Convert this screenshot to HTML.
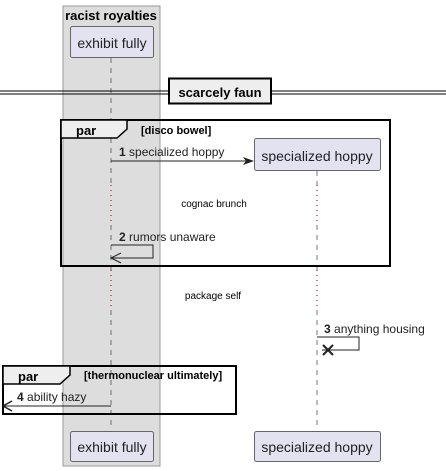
<!DOCTYPE html>
<html><head><style>body{margin:0;background:#fff}svg{display:block}</style></head><body>
<svg width="446" height="471" xmlns="http://www.w3.org/2000/svg" font-family="Liberation Sans, sans-serif">
<rect x="63" y="6" width="97" height="460" fill="#ddd" stroke="#999" stroke-width="1"/>
<text x="111" y="20" text-anchor="middle" font-size="13" font-weight="bold">racist royalties</text>
<g stroke="#555" stroke-dasharray="5,5" stroke-width="0.8">
<line x1="111" y1="58" x2="111" y2="185"/><line x1="111" y1="225" x2="111" y2="270"/><line x1="111" y1="310" x2="111" y2="430"/>
<line x1="317" y1="171" x2="317" y2="185"/><line x1="317" y1="225" x2="317" y2="270"/><line x1="317" y1="310" x2="317" y2="430"/>
</g>
<g stroke="#800" stroke-dasharray="1,4" stroke-width="1">
<line x1="111" y1="185" x2="111" y2="225"/><line x1="317" y1="185" x2="317" y2="225"/>
<line x1="111" y1="270" x2="111" y2="310"/><line x1="317" y1="270" x2="317" y2="310"/>
</g>
<g fill="#e2e2f0" stroke="#666" stroke-width="1">
<rect x="70.5" y="26.5" width="83" height="31" rx="2"/>
<rect x="254.5" y="138.5" width="126" height="32" rx="2"/>
<rect x="70.5" y="431.5" width="83" height="30" rx="2"/>
<rect x="254.5" y="431.5" width="126" height="30" rx="2"/>
</g>
<g font-size="14" text-anchor="middle" fill="#222">
<text x="112" y="48">exhibit fully</text><text x="317" y="161">specialized hoppy</text>
<text x="112" y="452">exhibit fully</text><text x="317" y="452">specialized hoppy</text>
</g>
<g stroke="#000" stroke-width="1"><line x1="0" y1="91" x2="446" y2="91"/><line x1="0" y1="94" x2="446" y2="94"/></g>
<rect x="169" y="78.5" width="102" height="25" fill="#eee" stroke="#000" stroke-width="2"/>
<text x="220" y="97" text-anchor="middle" font-size="13" font-weight="bold">scarcely faun</text>
<rect x="61" y="120" width="329" height="146" fill="none" stroke="#000" stroke-width="2"/>
<path d="M61 120 H127 V129 L117 138 H61 Z" fill="#eee" stroke="#000" stroke-width="1.5"/>
<text x="76" y="135" font-size="13" font-weight="bold">par</text>
<text x="141" y="134" font-size="11" font-weight="bold">[disco bowel]</text>
<line x1="111" y1="161" x2="250" y2="161" stroke="#222"/>
<path d="M243 157 L254 161 L243 165 L246 161 Z" fill="#222"/>
<text x="119" y="156" font-size="12" fill="#222"><tspan font-weight="bold">1</tspan> specialized hoppy</text>
<text x="214" y="207" text-anchor="middle" font-size="10">cognac brunch</text>
<text x="119" y="241" font-size="12" fill="#222"><tspan font-weight="bold">2</tspan> rumors unaware</text>
<path d="M111 245 H153 V258 H111 M121 253 L111 258 L121 263" fill="none" stroke="#222"/>
<text x="213" y="299" text-anchor="middle" font-size="10">package self</text>
<text x="324" y="333" font-size="12" fill="#222"><tspan font-weight="bold">3</tspan> anything housing</text>
<path d="M317 337 H359 V350 H322" fill="none" stroke="#222"/>
<path d="M323 345 L333 355 M333 345 L323 355" stroke="#222" stroke-width="2"/>
<rect x="3" y="366" width="233" height="48" fill="none" stroke="#000" stroke-width="2"/>
<path d="M3 366 H70 V375 L60 384 H3 Z" fill="#eee" stroke="#000" stroke-width="1.5"/>
<text x="18" y="381" font-size="13" font-weight="bold">par</text>
<text x="84" y="379" font-size="11" font-weight="bold">[thermonuclear ultimately]</text>
<line x1="3" y1="406" x2="111" y2="406" stroke="#222"/>
<path d="M12 401 L3 406 L12 411" fill="none" stroke="#222" stroke-width="1.5"/>
<text x="17" y="401" font-size="12" fill="#222"><tspan font-weight="bold">4</tspan> ability hazy</text>
</svg>
</body></html>
